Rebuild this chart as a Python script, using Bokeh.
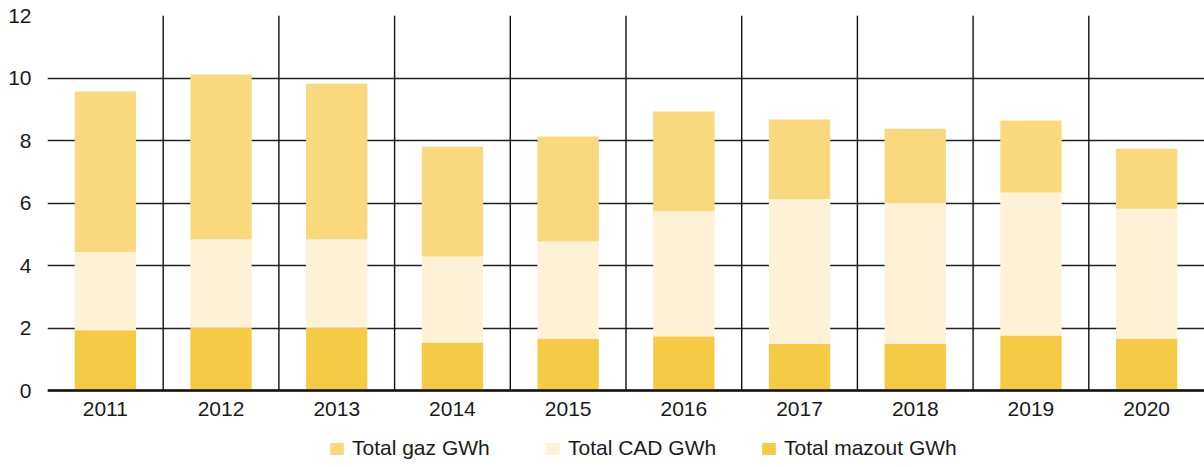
from bokeh.plotting import figure
from bokeh.models import FixedTicker, Legend, LegendItem, Range1d, ColumnDataSource
from bokeh.embed import file_html
from bokeh.resources import INLINE

years = ["2011", "2012", "2013", "2014", "2015", "2016", "2017", "2018", "2019", "2020"]
mazout = [1.93, 2.02, 2.02, 1.54, 1.66, 1.74, 1.50, 1.50, 1.76, 1.66]
cad = [2.50, 2.81, 2.81, 2.75, 3.11, 4.00, 4.63, 4.50, 4.58, 4.16]
gaz = [5.14, 5.28, 4.99, 3.51, 3.36, 3.19, 2.54, 2.38, 2.30, 1.92]
y_ticks = [0, 2, 4, 6, 8, 10, 12]

colors = {"gaz": "#F9D87E", "cad": "#FDF1D6", "mazout": "#F5CB45"}
FONT = "Liberation Sans"
FS = "21px"

xpos = [i + 0.5 for i in range(len(years))]
source = ColumnDataSource(dict(x=xpos, mazout=mazout, cad=cad, gaz=gaz))

# frame extends below zero so that the axis labels and legend live inside it
p = figure(frame_width=1157, frame_height=452, output_backend="svg", toolbar_location=None,
           x_range=Range1d(0, len(years)), y_range=Range1d(-2.464, 12),
           min_border_left=47, min_border_right=0, min_border_top=15, min_border_bottom=0)
p.outline_line_color = None
p.background_fill_color = "white"

# vertical separators between categories, from 0 to the top tick
bounds = list(range(1, len(years)))
p.segment(x0=bounds, x1=bounds, y0=[y_ticks[0]] * len(bounds), y1=[y_ticks[-1]] * len(bounds),
          line_color="#111111", line_width=1.4)
p.xgrid.visible = False

rs = p.vbar_stack(["mazout", "cad", "gaz"], x="x", width=0.53, source=source,
                  color=[colors["mazout"], colors["cad"], colors["gaz"]], line_color=None)

p.ygrid.ticker = FixedTicker(ticks=y_ticks)
p.ygrid.grid_line_color = "#222222"
p.ygrid.grid_line_width = 1.4

# axes
p.yaxis.ticker = FixedTicker(ticks=y_ticks)
p.yaxis.axis_line_color = None
p.yaxis.major_tick_line_color = None
p.yaxis.major_tick_out = 0
p.yaxis.major_tick_in = 0
p.yaxis.minor_tick_line_color = None
p.yaxis.major_label_standoff = 16
p.yaxis.major_label_text_font = FONT
p.yaxis.major_label_text_font_size = FS
p.yaxis.major_label_text_color = "#1a1a1a"

p.xaxis.fixed_location = 0
p.xaxis.ticker = FixedTicker(ticks=xpos)
p.xaxis.major_label_overrides = {xv: y for xv, y in zip(xpos, years)}
p.xaxis.axis_line_color = "#111111"
p.xaxis.axis_line_width = 2.5
p.xaxis.major_tick_line_color = None
p.xaxis.major_tick_out = 0
p.xaxis.major_tick_in = 0
p.xaxis.minor_tick_line_color = None
p.xaxis.major_label_standoff = 11
p.xaxis.major_label_text_font = FONT
p.xaxis.major_label_text_font_size = FS
p.xaxis.major_label_text_color = "#1a1a1a"

legend = Legend(items=[
    LegendItem(label="Total gaz GWh", renderers=[rs[2]]),
    LegendItem(label="Total CAD GWh", renderers=[rs[1]]),
    LegendItem(label="Total mazout GWh", renderers=[rs[0]]),
], orientation="horizontal", location=(281, 7))
legend.label_text_font = FONT
legend.label_text_font_size = FS
legend.label_text_color = "#1a1a1a"
legend.glyph_width = 17
legend.glyph_height = 15
legend.label_standoff = 7
legend.label_width = 176
legend.label_height = 15
legend.spacing = 16
legend.padding = 0
legend.margin = 0
legend.border_line_color = None
legend.background_fill_alpha = 0
p.add_layout(legend, "center")

open("out.html", "w").write(file_html(p, INLINE))
